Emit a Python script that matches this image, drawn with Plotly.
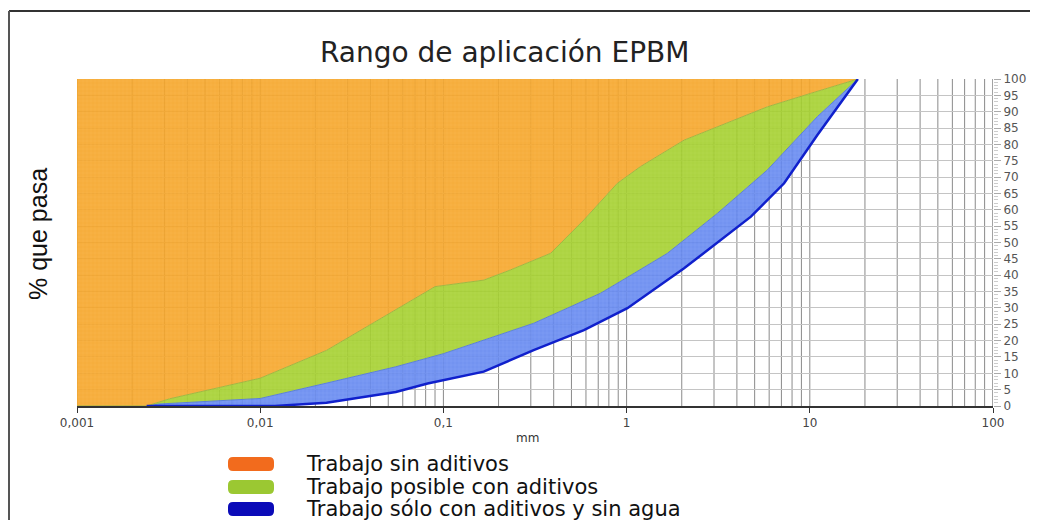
import plotly.graph_objects as go

# ---- data ----
green_top_x = [0.001, 0.0024, 0.0032, 0.01, 0.023, 0.055, 0.09, 0.166, 0.232, 0.385, 0.585, 0.89, 1.19, 2.06, 3.86, 5.87, 10.1, 18.3]
green_top_y = [0, 0, 2.2, 8.5, 17, 29.5, 36.5, 38.5, 41.6, 46.7, 56.9, 68.1, 73.2, 81.3, 87.5, 91.5, 95.6, 100]

blue_top_x = [0.001, 0.0024, 0.0028, 0.01, 0.023, 0.055, 0.1, 0.166, 0.311, 0.474, 0.721, 1.1, 1.67, 3.13, 5.87, 11.0, 18.3]
blue_top_y = [0, 0, 0.6, 2.3, 7, 12, 16, 20.2, 25.3, 29.9, 34.5, 40.6, 46.7, 58.9, 72.2, 88.5, 100]

blue_bot_x = [0.001, 0.0024, 0.012, 0.023, 0.055, 0.082, 0.124, 0.166, 0.311, 0.585, 1.01, 2.06, 4.77, 7.24, 11.0, 18.3]
blue_bot_y = [0, 0, 0, 1, 4.3, 6.9, 9.0, 10.5, 17.1, 23.2, 29.9, 42.1, 57.9, 68.1, 82.9, 100]

top_x = [0.001, 18.3]
top_y = [100, 100]

x_tick_vals = [0.001, 0.01, 0.1, 1, 10, 100]
x_tick_text = ["0,001", "0,01", "0,1", "1", "10", "100"]
y_tick_vals = list(range(0, 101, 5))

legend_labels = ["Trabajo sin aditivos", "Trabajo posible con aditivos", "Trabajo sólo con aditivos y sin agua"]
legend_colors = ["#F26B1D", "#9BC832", "#0B0BB8"]

title_text = "Rango de aplicación EPBM"
y_title = "% que pasa"
x_title = "mm"

# ---- layout geometry (window pixels; page body has an 8px margin) ----
OFF = 8
WIN_W, WIN_H = 1039, 529
W, H = WIN_W - 2 * OFF, WIN_H - 2 * OFF
FIG_R, FIG_B = OFF + W, OFF + H          # right / bottom edge of the figure in window pixels
L, R, T, B = 77, 993, 79, 406
pw, ph = R - L, B - T


def px(x):
    return (x - L) / pw


def py(y):
    return (B - y) / ph


fig = go.Figure()

# base (invisible) for blue fill
fig.add_trace(go.Scatter(x=blue_bot_x, y=blue_bot_y, mode="lines",
                         line=dict(width=0, color="rgba(0,0,0,0)"),
                         hoverinfo="skip", showlegend=False))
# blue band
fig.add_trace(go.Scatter(x=blue_top_x, y=blue_top_y, mode="lines", fill="tonexty",
                         fillcolor="rgba(100,135,240,0.9)",
                         fillpattern=dict(shape="+", size=4, solidity=0.12,
                                          fgcolor="rgba(170,195,255,0.8)", bgcolor="rgba(100,135,240,0.9)"),
                         line=dict(width=1, color="#5a7fd8"),
                         hoverinfo="skip", showlegend=False))
# green band
fig.add_trace(go.Scatter(x=green_top_x, y=green_top_y, mode="lines", fill="tonexty",
                         fillcolor="rgba(164,208,46,0.9)",
                         fillpattern=dict(shape="+", size=4, solidity=0.12,
                                          fgcolor="rgba(200,235,110,0.8)", bgcolor="rgba(164,208,46,0.9)"),
                         line=dict(width=1, color="#a0b840"),
                         hoverinfo="skip", showlegend=False))
# orange region
fig.add_trace(go.Scatter(x=top_x, y=top_y, mode="lines", fill="tonexty",
                         fillcolor="rgba(246,165,40,0.9)",
                         fillpattern=dict(shape="+", size=4, solidity=0.12,
                                          fgcolor="rgba(250,200,110,0.8)", bgcolor="rgba(246,165,40,0.9)"),
                         line=dict(width=0, color="rgba(0,0,0,0)"),
                         hoverinfo="skip", showlegend=False))
# dark blue lower boundary
fig.add_trace(go.Scatter(x=blue_bot_x[1:], y=blue_bot_y[1:], mode="lines",
                         line=dict(width=2.5, color="#1020CC"),
                         hoverinfo="skip", showlegend=False))

shapes = []
# vertical log gridlines
for d in range(-3, 2):
    for k in range(1, 10):
        v = k * 10 ** d
        shapes.append(dict(type="line", xref="x", yref="paper", x0=v, x1=v, y0=0, y1=1,
                           line=dict(color="#8a8a8a", width=1), layer="below"))
shapes.append(dict(type="line", xref="x", yref="paper", x0=100, x1=100, y0=0, y1=1,
                   line=dict(color="#666", width=1.2), layer="below"))

# outer frame (top & left visible), kept inside the figure
shapes.append(dict(type="line", xref="paper", yref="paper", x0=px(9), x1=px(FIG_R - 1), y0=py(11), y1=py(11),
                   line=dict(color="#333", width=2)))
shapes.append(dict(type="line", xref="paper", yref="paper", x0=px(9), x1=px(9), y0=py(11), y1=py(FIG_B - 1),
                   line=dict(color="#555", width=2)))


def rounded_rect(x0, y0, x1, y1, r):
    # pixel coordinates -> paper path
    return (f"M {px(x0 + r)},{py(y0)} L {px(x1 - r)},{py(y0)} Q {px(x1)},{py(y0)} {px(x1)},{py(y0 + r)} "
            f"L {px(x1)},{py(y1 - r)} Q {px(x1)},{py(y1)} {px(x1 - r)},{py(y1)} "
            f"L {px(x0 + r)},{py(y1)} Q {px(x0)},{py(y1)} {px(x0)},{py(y1 - r)} "
            f"L {px(x0)},{py(y0 + r)} Q {px(x0)},{py(y0)} {px(x0 + r)},{py(y0)} Z")


annotations = []
legend_y = [464, 487, 509]
for lab, col, yy in zip(legend_labels, legend_colors, legend_y):
    shapes.append(dict(type="path", xref="paper", yref="paper",
                       path=rounded_rect(228, yy - 7, 274, yy + 7, 5),
                       fillcolor=col, line=dict(width=0)))
    annotations.append(dict(text=lab, xref="paper", yref="paper", x=px(304), y=py(yy),
                            xanchor="left", yanchor="middle", showarrow=False,
                            font=dict(family="DejaVu Sans", size=21, color="#111")))

annotations.append(dict(text=title_text, xref="paper", yref="paper", x=px(504), y=py(52),
                        xanchor="center", yanchor="middle", showarrow=False,
                        font=dict(family="DejaVu Sans", size=28, color="#222")))
annotations.append(dict(text=y_title, xref="paper", yref="paper", x=px(38), y=py(234),
                        xanchor="center", yanchor="middle", showarrow=False, textangle=-90,
                        font=dict(family="Liberation Sans", size=25, color="#111")))
annotations.append(dict(text=x_title, xref="paper", yref="paper", x=px(527), y=py(438),
                        xanchor="center", yanchor="middle", showarrow=False,
                        font=dict(family="DejaVu Sans", size=12, color="#333")))

fig.update_layout(
    width=W, height=H,
    margin=dict(l=L - OFF, r=FIG_R - R, t=T - OFF, b=FIG_B - B, pad=0, autoexpand=False),
    paper_bgcolor="white", plot_bgcolor="white",
    showlegend=False,
    shapes=shapes,
    annotations=annotations,
    xaxis=dict(type="log", range=[-3, 2], tickvals=x_tick_vals, ticktext=x_tick_text,
               showgrid=False, zeroline=False, showline=True, linecolor="#333", linewidth=1.5,
               ticks="outside", ticklen=5, tickcolor="#333", automargin=False,
               tickfont=dict(family="DejaVu Sans", size=12, color="#444")),
    yaxis=dict(range=[0, 100], side="right", tickvals=y_tick_vals, showgrid=True,
               gridcolor="#c4c4c4", gridwidth=1, zeroline=False, showline=False,
               ticks="outside", ticklen=7, tickcolor="#aaa", automargin=False,
               minor=dict(dtick=1, ticks="outside", ticklen=4, tickcolor="#ccc", showgrid=False),
               tickfont=dict(family="DejaVu Sans", size=12, color="#555")),
)

fig.write_html("out.html")
